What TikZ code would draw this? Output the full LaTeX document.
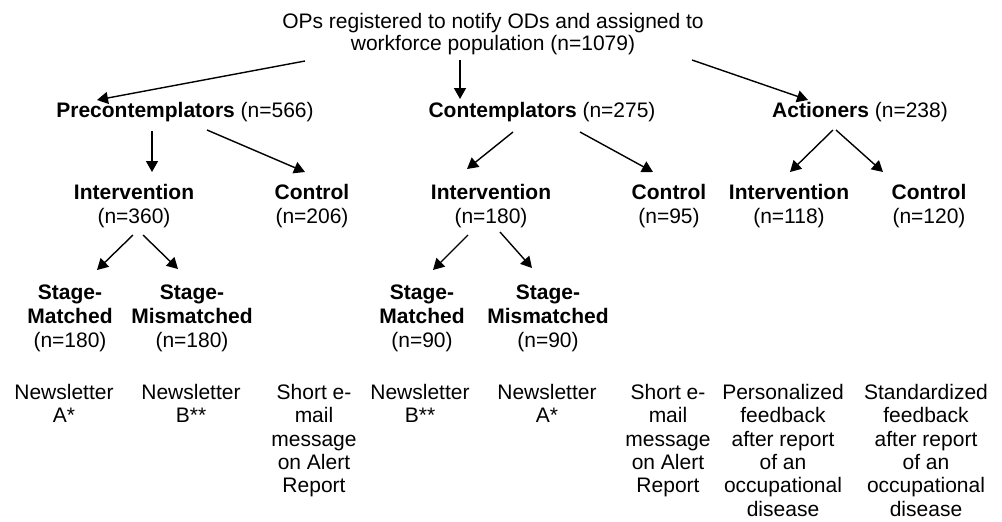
\documentclass[tikz,border=0pt]{standalone}
\usepackage{fontspec}
\setmainfont{Liberation Sans}
\usetikzlibrary{arrows.meta}
\begin{document}
\begin{tikzpicture}[x=1pt,y=-1pt,
  every node/.style={inner sep=0pt,outer sep=0pt,font=\fontsize{21}{24}\selectfont,align=center},
  lvl/.style={anchor=north},
  leaf/.style={anchor=north,font=\fontsize{21}{23.4}\selectfont},
  arr/.style={-{Triangle[length=11pt,width=12pt]},line width=1.4pt}]
\useasboundingbox (0,0) rectangle (1002,522);
% title
\node[lvl,font=\fontsize{21}{22}\selectfont] (top) at (493,13) {OPs registered to notify ODs and assigned to\\workforce population (n=1079)};
% level 1
\node (prec) at (185,112) {\textbf{Precontemplators} (n=566)};
\node (cont) at (542,112) {\textbf{Contemplators} (n=275)};
\node (act)  at (860,112) {\textbf{Actioners} (n=238)};
% level 2
\node[lvl] (pi) at (134,184) {\textbf{Intervention}\\(n=360)};
\node[lvl] (pc) at (312,184) {\textbf{Control}\\(n=206)};
\node[lvl] (ci) at (491,184) {\textbf{Intervention}\\(n=180)};
\node[lvl] (cc) at (669,184) {\textbf{Control}\\(n=95)};
\node[lvl] (ai) at (789,184) {\textbf{Intervention}\\(n=118)};
\node[lvl] (ac) at (929,184) {\textbf{Control}\\(n=120)};
% level 3
\node[lvl] (psm)  at (70,285)  {\textbf{Stage-}\\\textbf{Matched}\\(n=180)};
\node[lvl] (psmm) at (192,285) {\textbf{Stage-}\\\textbf{Mismatched}\\(n=180)};
\node[lvl] (csm)  at (422,285) {\textbf{Stage-}\\\textbf{Matched}\\(n=90)};
\node[lvl] (csmm) at (548,285) {\textbf{Stage-}\\\textbf{Mismatched}\\(n=90)};
% level 4
\node[leaf] (d1) at (64,384)  {Newsletter\\A*};
\node[leaf] (d2) at (191,384) {Newsletter\\B**};
\node[leaf] (d3) at (314,384) {Short e-\\mail\\message\\on Alert\\Report};
\node[leaf] (d4) at (420,384) {Newsletter\\B**};
\node[leaf] (d5) at (547,384) {Newsletter\\A*};
\node[leaf] (d6) at (668,384) {Short e-\\mail\\message\\on Alert\\Report};
\node[leaf] (d7) at (783,384) {Personalized\\feedback\\after report\\of an\\occupational\\disease};
\node[leaf] (d8) at (926,384) {Standardized\\feedback\\after report\\of an\\occupational\\disease};
% connectors
\draw[arr] ([shift={(-188,48)}]top.north) -- ([shift={(-88,-12)}]prec.center);
\draw[arr] ([shift={(-33,47)}]top.north) -- ([shift={(-82,-13)}]cont.center);
\draw[arr] ([shift={(199,47)}]top.north) -- ([shift={(-52,-12)}]act.center);
\draw[arr] ([shift={(-33,19)}]prec.center) -- ([shift={(18,-12)}]pi.north);
\draw[arr] ([shift={(22,18)}]prec.center) -- ([shift={(-7,-12)}]pc.north);
\draw[arr] ([shift={(-29,20)}]cont.center) -- ([shift={(-24,-15)}]ci.north);
\draw[arr] ([shift={(38,20)}]cont.center) -- ([shift={(-16,-12)}]cc.north);
\draw[arr] ([shift={(-27,18)}]act.center) -- ([shift={(1,-12)}]ai.north);
\draw[arr] ([shift={(-24,18)}]act.center) -- ([shift={(-46,-12)}]ac.north);
\draw[arr] ([shift={(-1,51)}]pi.north) -- ([shift={(27,-15)}]psm.north);
\draw[arr] ([shift={(9,51)}]pi.north) -- ([shift={(-14,-16)}]psmm.north);
\draw[arr] ([shift={(-23,51)}]ci.north) -- ([shift={(11,-15)}]csm.north);
\draw[arr] ([shift={(9,48)}]ci.north) -- ([shift={(-16,-17)}]csmm.north);
\end{tikzpicture}
\end{document}
